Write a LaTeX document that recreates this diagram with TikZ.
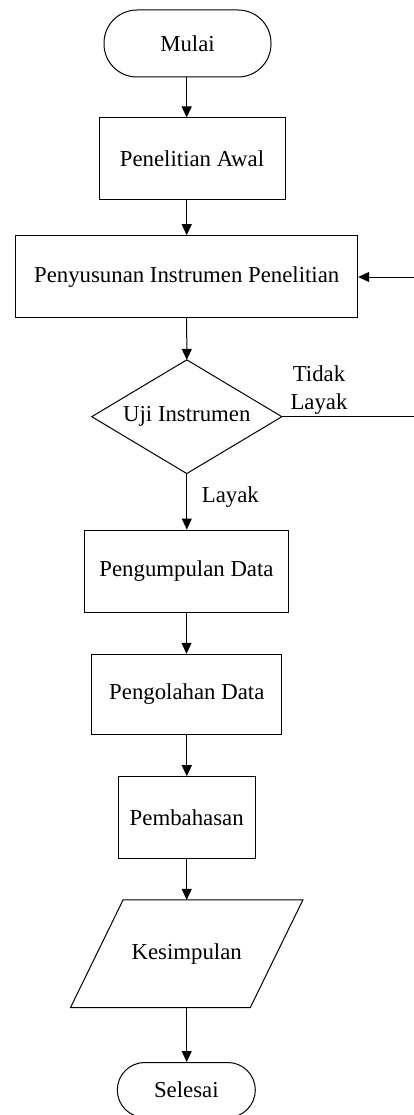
\documentclass[tikz,border=0pt]{standalone}
\usepackage{fontspec}
\setmainfont{Liberation Serif}
\usetikzlibrary{arrows.meta}
\begin{document}
\begin{tikzpicture}[x=1pt,y=-1pt,
  every node/.style={font=\fontsize{22.8}{27.3}\selectfont, inner sep=0pt},
  procbox/.style={draw, line width=1pt, rectangle},
  termbox/.style={draw, line width=1pt, rectangle},
  conn/.style={line width=1pt, -{Triangle[length=11pt,width=10pt]}},
  plainconn/.style={line width=1pt},
  outline/.style={line width=1pt, line join=miter}]
\fill[white] (0,0) rectangle (414,1115);
\useasboundingbox (0,0) rectangle (414,1115);
\clip (0,0) rectangle (414,1115);

\node[termbox, rounded corners=33pt, minimum width=167pt, minimum height=67pt] (mulai) at (187.5,43.5) {Mulai};
\node[procbox, minimum width=186pt, minimum height=82pt] (awal) at (192,159) {Penelitian Awal};
\node[procbox, minimum width=342pt, minimum height=82pt] (susun) at (186.7,276.7) {Penyusunan Instrumen Penelitian};
\node[minimum width=189.7pt, minimum height=113.3pt] (uji) at (186.8,416.7) {Uji Instrumen};
\draw[outline] (uji.north) -- (uji.east) -- (uji.south) -- (uji.west) -- cycle;
\node[procbox, minimum width=204.4pt, minimum height=82.3pt] (kumpul) at (186.5,571.2) {Pengumpulan Data};
\node[procbox, minimum width=190.3pt, minimum height=80pt] (olah) at (186.8,694.3) {Pengolahan Data};
\node[procbox, minimum width=136.7pt, minimum height=81.6pt] (bahas) at (186.7,817.5) {Pembahasan};
\node[minimum width=232pt, minimum height=107.3pt] (simpul) at (186.7,953.7) {Kesimpulan};
\draw[outline] ([xshift=52.6pt]simpul.north west) -- (simpul.north east)
  -- ([xshift=-52.6pt]simpul.south east) -- (simpul.south west) -- cycle;
\node[termbox, rounded corners=27.5pt, minimum width=138pt, minimum height=55pt] (selesai) at (186.3,1090) {Selesai};

\node[anchor=base] (tidak) at (319,381.7) {Tidak};
\node[anchor=base] (layakkanan) at (319,409) {Layak};
\node[anchor=base west] (layakbawah) at (201.7,502.3) {Layak};

\coordinate (ujiout) at (414,416.7);
\coordinate (kembali) at (414,277);

\draw[conn] (mulai.south -| susun.north) -- (awal.north -| susun.north);
\draw[conn] (awal.south -| susun.north) -- (susun.north);
\draw[conn] (susun.south) -- (uji.north);
\draw[conn] (uji.south) -- (uji.south |- kumpul.north);
\draw[conn] (kumpul.south) -- (kumpul.south |- olah.north);
\draw[conn] (olah.south) -- (olah.south |- bahas.north);
\draw[conn] (bahas.south) -- (bahas.south |- simpul.north);
\draw[conn] (simpul.south -| bahas.south) -- (bahas.south |- selesai.north);
\draw[plainconn] (uji.east) -- (ujiout);
\draw[conn] (kembali) -- (susun.east |- kembali);
\end{tikzpicture}
\end{document}
